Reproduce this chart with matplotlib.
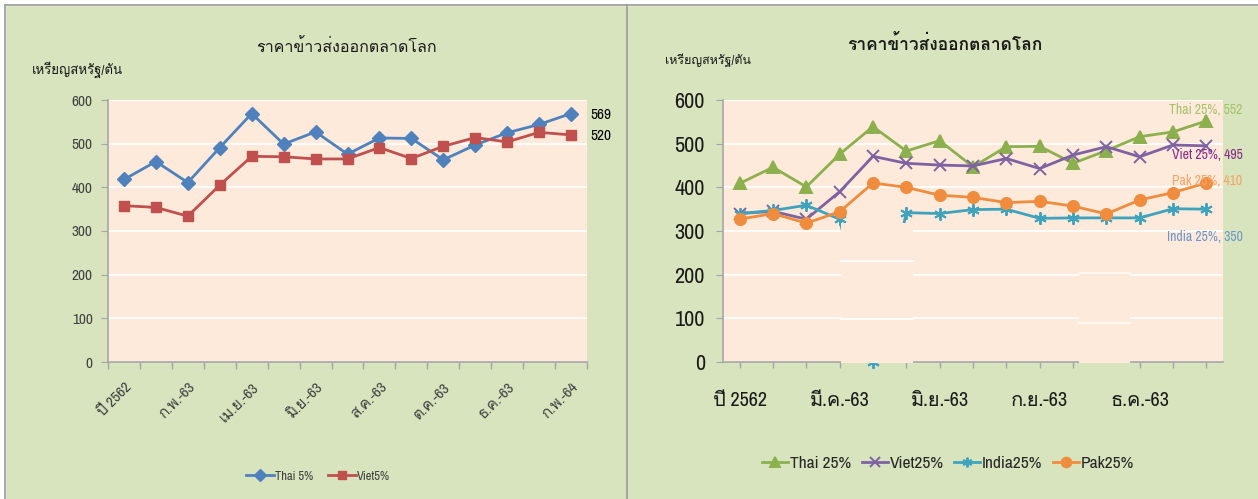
"""Two line charts: world export rice prices (Thai / Viet / India / Pak)."""

import matplotlib
matplotlib.use("Agg")
import matplotlib.pyplot as plt
from matplotlib import font_manager, ft2font
from matplotlib.lines import Line2D
from matplotlib.patches import Rectangle

months = ["ปี 2562", "ม.ค.-63", "ก.พ.-63", "มี.ค.-63", "เม.ย.-63", "พ.ค.-63", "มิ.ย.-63",
          "ก.ค.-63", "ส.ค.-63", "ก.ย.-63", "ต.ค.-63", "พ.ย.-63", "ธ.ค.-63", "ม.ค.-64", "ก.พ.-64"]

# left chart
thai5 = [418, 459, 411, 491, 569, 499, 527, 476, 513, 512, 463, 497, 525, 544, 569]
viet5 = [358, 354, 334, 405, 471, 470, 465, 465, 491, 466, 494, 514, 504, 526, 520]

# right chart
thai25 = [409, 446, 401, 476, 539, 483, 507, 447, 493, 494, 455, 484, 516, 527, 552]
viet25 = [340, 345, 327, 390, 471, 455, 451, 449, 466, 443, 474, 493, 470, 497, 495]
india25 = [340, 347, 359, 327, 0, 342, 340, 349, 350, 329, 330, 330, 330, 351, 350]
pak25 = [327, 340, 318, 344, 410, 400, 382, 377, 365, 368, 357, 339, 371, 388, 410]

title = "ราคาข้าวส่งออกตลาดโลก"
unit = "เหรียญสหรัฐ/ตัน"

GREEN_BG = "#D7E4BD"
PEACH = "#FDEADA"
AXIS_GRAY = "#A6A6A6"


def find_thai_font():
    for f in font_manager.fontManager.ttflist:
        try:
            if ft2font.FT2Font(f.fname).get_char_index(0x0E01):
                return f.name
        except Exception:
            continue
    return None


# narrow latin face if one is installed, otherwise plain Liberation Sans made smaller
ttf = font_manager.fontManager.ttflist
narrow = [f.name for f in ttf if ("Narrow" in f.name or "Condensed" in f.name)
          and f.style == "normal"]
if narrow:
    latin, k = narrow[0], 1.0
else:
    latin, k = "Liberation Sans", 0.88
fams = [latin]
thai_font = find_thai_font()
if thai_font and thai_font not in fams:
    fams.append(thai_font)
if "DejaVu Sans" not in fams:
    fams.append("DejaVu Sans")
plt.rcParams["font.family"] = fams

fig = plt.figure(figsize=(12.58, 4.99), dpi=100, facecolor=GREEN_BG)

# white margins + panel borders
fig.patches.append(Rectangle((0, 1 - 5 / 499), 1, 5 / 499, transform=fig.transFigure,
                             color="white", zorder=0))
fig.patches.append(Rectangle((0, 0), 5 / 1258, 1, transform=fig.transFigure,
                             color="white", zorder=0))
for xp in (5, 627):
    fig.add_artist(Line2D([xp / 1258, xp / 1258], [0, 1 - 5 / 499], transform=fig.transFigure,
                          color="#9A9A9A", lw=1.2))
fig.add_artist(Line2D([5 / 1258, 1], [1 - 5 / 499, 1 - 5 / 499], transform=fig.transFigure,
                      color="#9A9A9A", lw=1.2))

x = list(range(len(months)))


def style_axes(ax):
    ax.set_facecolor(PEACH)
    ax.set_xlim(-0.5, len(months) - 0.5)
    ax.set_ylim(0, 600)
    ax.set_yticks(range(0, 601, 100))
    ax.yaxis.grid(True, color="white", lw=1.3)
    ax.set_axisbelow(True)
    for s in ("top", "right"):
        ax.spines[s].set_visible(False)
    for s in ("left", "bottom"):
        ax.spines[s].set_color(AXIS_GRAY)
        ax.spines[s].set_linewidth(1.2)


# ---------------- left chart ----------------
ax1 = fig.add_axes([108 / 1258, 1 - 362 / 499, 479 / 1258, 262 / 499])
style_axes(ax1)
ax1.plot(x, thai5, color="#4F81BD", lw=2.0, marker="D", ms=7, label="Thai 5%")
ax1.plot(x, viet5, color="#C0504D", lw=2.0, marker="s", ms=7.5, label="Viet5%")
ax1.set_xticks(x[::2])
ax1.set_xticklabels(months[::2], rotation=45, ha="right", va="top", rotation_mode="anchor")
ax1.set_xticks([i - 0.5 for i in range(len(months) + 1)], minor=True)
ax1.tick_params(axis="x", which="major", length=0, pad=13, labelsize=11 * k,
                labelcolor="#404040")
ax1.tick_params(axis="x", which="minor", length=5, color=AXIS_GRAY, width=1)
ax1.tick_params(axis="y", length=5, color=AXIS_GRAY, pad=6, labelsize=11 * k,
                labelcolor="#404040")
for vals in (thai5, viet5):
    ax1.annotate(str(vals[-1]), (x[-1], vals[-1]), xytext=(14, -1), textcoords="offset points",
                 ha="left", va="center", fontsize=11 * k, color="black")
fig.text(346 / 1258, 1 - 47 / 499, title, ha="center", va="center", fontsize=11.5,
         color="#1A1A1A")
fig.text(32 / 1258, 1 - 70 / 499, unit, ha="left", va="center", fontsize=9.5, color="#1A1A1A")
h1, l1 = ax1.get_legend_handles_labels()
leg1 = fig.legend(h1, l1, loc="center", bbox_to_anchor=(318 / 1258, 1 - 476 / 499), ncol=2,
                  frameon=False, fontsize=9 * k, handlelength=2.2, handletextpad=0.1,
                  columnspacing=1.2)
for t in leg1.get_texts():
    t.set_color("#404040")
for hl in leg1.get_lines():
    hl.set_markersize(6)

# ---------------- right chart ----------------
ax2 = fig.add_axes([723 / 1258, 1 - 362 / 499, 500 / 1258, 262 / 499])
style_axes(ax2)
series = [
    ("Thai 25%", thai25, "#8DB04F", "^", 8.5, "Thai 25%", "#A5C26A", (26, 8)),
    ("Viet25%", viet25, "#7E62A1", "x", 8, "Viet 25%", "#8A2A8A", (26, -6.5)),
    ("India25%", india25, "#3FA3BD", (6, 2, 0), 9, "India 25%", "#6F95C8", (26, -20)),
    ("Pak25%", pak25, "#F08C3E", "o", 8, "Pak 25%", "#F8A466", (26, 1.5)),
]
handles = []
for name, vals, col, mk, ms, lab, lcol, off in series:
    (ln,) = ax2.plot(x, vals, color=col, lw=2.0, marker=mk, ms=ms, mew=1.4, label=name,
                     clip_on=False, zorder=2)
    handles.append(ln)
    ax2.annotate(f"{lab}, {vals[-1]}", (x[-1], vals[-1]), xytext=off, textcoords="offset points",
                 ha="right", va="center", fontsize=11 * k * 0.9, color=lcol, zorder=5)

# patched-over areas seen in the source picture
for x0, x1, top, lines, alpha in [(3.05, 5.2, 318, (231, 99), 1.0),
                                  (10.19, 11.7, 210, (204, 89), 0.7)]:
    ax2.add_patch(Rectangle((x0, -3), x1 - x0, top + 3, facecolor=PEACH, edgecolor="none",
                            zorder=3, clip_on=False))
    for yv in lines:
        ax2.plot([x0, x1], [yv, yv], color="white", lw=1.3, alpha=alpha, zorder=3.1)

tick_pos = [i for i in x if i not in (4, 11)]
ax2.set_xticks(tick_pos)
ax2.set_xticklabels([months[i] if i % 3 == 0 else "" for i in tick_pos])
ax2.tick_params(axis="x", length=4, color=AXIS_GRAY, width=1, pad=17, labelsize=14.5 * k,
                labelcolor="#1A1A1A")
ax2.tick_params(axis="y", length=5, color=AXIS_GRAY, pad=8, labelsize=16 * k,
                labelcolor="#1A1A1A")
fig.text(945 / 1258, 1 - 43 / 499, title, ha="center", va="center", fontsize=12.5,
         fontweight="bold", color="#1A1A1A")
fig.text(665 / 1258, 1 - 60 / 499, unit, ha="left", va="center", fontsize=9, color="#1A1A1A")
leg2 = fig.legend(handles, [h.get_label() for h in handles], loc="center",
                  bbox_to_anchor=(948 / 1258, 1 - 463 / 499), ncol=4, frameon=False,
                  fontsize=12.5 * k, handlelength=1.5, handletextpad=0.1, columnspacing=0.6)
for t in leg2.get_texts():
    t.set_color("#262626")
for hl in leg2.get_lines():
    hl.set_markersize(7)

fig.savefig("out.png", dpi=100, facecolor=fig.get_facecolor())
